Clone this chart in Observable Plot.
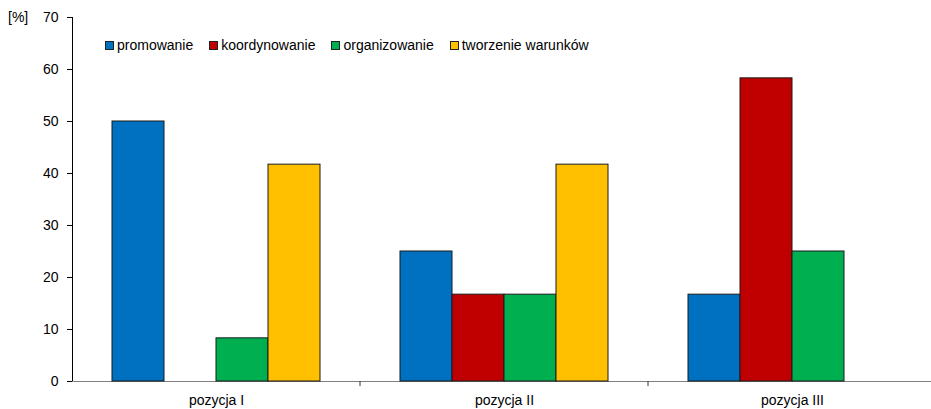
<!DOCTYPE html>
<html><head><meta charset="utf-8">
<script src="https://cdn.jsdelivr.net/npm/d3@7"></script>
<script src="https://cdn.jsdelivr.net/npm/@observablehq/plot@0.6"></script>
<style>
body{margin:0;background:#fff;font-family:"Liberation Sans",Arial,sans-serif;}
#wrap{position:relative;width:931px;height:409px;overflow:hidden}
#unit{position:absolute;left:8px;top:9px;font-size:14px;line-height:16px;color:#000}
#legend{position:absolute;left:105px;top:37px;display:flex;font-size:14px;line-height:16px;align-items:center;color:#000}
.item{display:flex;align-items:center;margin-right:16px}
.sw{width:7px;height:7px;border:1px solid #222;margin-right:3px}
</style></head>
<body><div id="wrap"><div id="chart"></div><div id="unit">[%]</div><div id="legend"></div></div>
<script>
const groups = ["pozycja I", "pozycja II", "pozycja III"];
const series = ["promowanie", "koordynowanie", "organizowanie", "tworzenie warunków"];
const colors = ["#0070C0", "#C00000", "#00B050", "#FFC000"];
const promowanie = [50, 25, 16.7];
const koordynowanie = [0, 16.7, 58.3];
const organizowanie = [8.3, 16.7, 25];
const tworzenie = [41.7, 41.7, 0];
const yTicks = [0, 10, 20, 30, 40, 50, 60, 70];

const valuesBySeries = [promowanie, koordynowanie, organizowanie, tworzenie];
const table = [];
groups.forEach((g, gi) => series.forEach((s, si) => {
  const v = valuesBySeries[si][gi];
  if (v > 0) table.push({group: g, series: s, value: v});
}));

const legend = document.getElementById("legend");
series.forEach((s, i) => {
  const it = document.createElement("div"); it.className = "item";
  const sw = document.createElement("div"); sw.className = "sw"; sw.style.background = colors[i];
  const tx = document.createElement("span"); tx.textContent = s;
  it.append(sw, tx); legend.append(it);
});

const chart = Plot.plot({
  width: 931, height: 409,
  marginLeft: 72, marginRight: -5, marginTop: 17, marginBottom: 28,
  style: {fontFamily: "Liberation Sans, Arial, sans-serif", fontSize: "14px", color: "#000", background: "transparent"},
  facet: {data: table, x: "group"},
  fx: {domain: groups, padding: 0, axis: "bottom", tickSize: 0, tickPadding: 14, label: null},
  x: {domain: series, paddingInner: 0, paddingOuter: 0.743, axis: null},
  y: {domain: [0, 70], ticks: yTicks, tickSize: 5, tickPadding: 9, line: true, label: null, tickFormat: d => d},
  color: {domain: series, range: colors},
  marks: [
    Plot.ruleY([0], {stroke: "#808080"}),
    Plot.barY(table, {x: "series", y: "value", fill: "series", stroke: "#1a1a1a", strokeWidth: 1}),
    (index, scales, values, dimensions) => {
      const g = d3.create("svg:g");
      const {width, height, marginBottom, marginRight} = dimensions;
      const x = width - marginRight;
      const y0 = height - marginBottom;
      g.append("line").attr("x1", x).attr("x2", x).attr("y1", y0).attr("y2", y0 + 5).attr("stroke", "#333");
      return g.node();
    }
  ]
});
document.getElementById("chart").append(chart);
</script>
</body></html>
